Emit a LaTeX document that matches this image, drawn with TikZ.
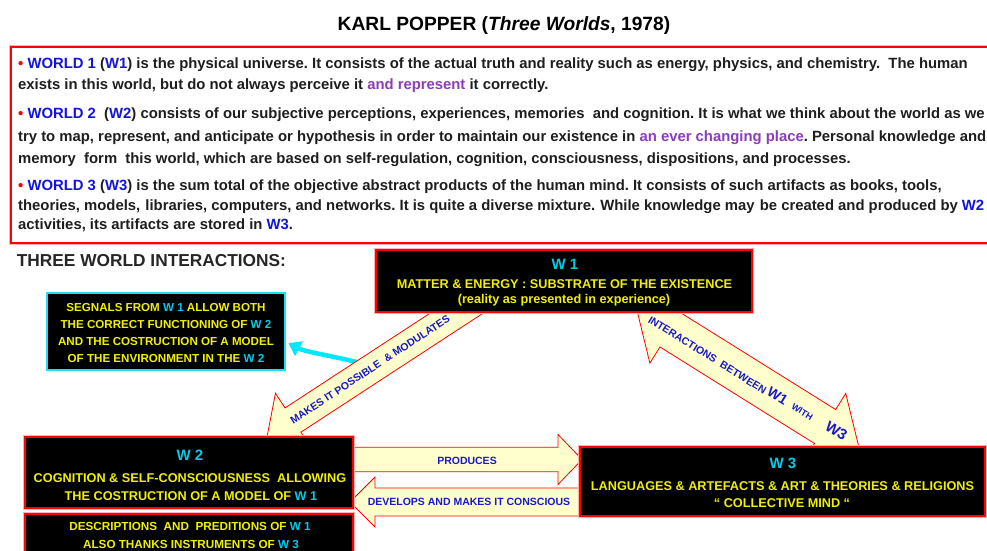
\documentclass[tikz,border=0pt]{standalone}
\usepackage{fontspec}
\setmainfont{Liberation Sans}
\usetikzlibrary{calc,arrows.meta}

\definecolor{boxred}{RGB}{255,0,0}
\definecolor{txtyellow}{RGB}{240,240,0}
\definecolor{txtcyan}{RGB}{0,204,232}
\definecolor{notecyan}{RGB}{30,220,250}
\definecolor{wblue}{RGB}{20,20,225}
\definecolor{wpurple}{RGB}{140,60,185}
\definecolor{arrowfill}{RGB}{255,255,206}
\definecolor{lblblue}{RGB}{25,25,200}
\definecolor{linkcyan}{RGB}{0,232,250}
\definecolor{bodyink}{RGB}{30,30,30}

\newcommand\fsz[1]{\fontsize{#1}{#1}\selectfont}
\newcommand\wb[1]{\textcolor{wblue}{#1}}
\newcommand\pu[1]{\textcolor{wpurple}{#1}}
\newcommand\cy[1]{\textcolor{txtcyan}{#1}}
\newcommand\rbul{\textcolor{boxred}{•}}

% single-headed block arrow: tail, tip, shaft half width, head half width, head length
\newcommand\blockarrow[5]{%
  \coordinate (baH) at ($(#2)!#5!(#1)$);
  \path[blocklink] ($(#1)!#3!90:(#2)$) -- ($(baH)!#3!-90:(#1)$) -- ($(baH)!#4!-90:(#1)$)
    -- (#2) -- ($(baH)!#4!90:(#1)$) -- ($(baH)!#3!90:(#1)$) -- ($(#1)!#3!-90:(#2)$) -- cycle;}
% double-headed block arrow
\newcommand\dblarrow[5]{%
  \coordinate (daP) at ($(#1)!#5!(#2)$);
  \coordinate (daQ) at ($(#2)!#5!(#1)$);
  \path[blocklink] (#1) -- ($(daP)!#4!90:(#2)$) -- ($(daP)!#3!90:(#2)$)
    -- ($(daQ)!#3!-90:(#1)$) -- ($(daQ)!#4!-90:(#1)$) -- (#2)
    -- ($(daQ)!#4!90:(#1)$) -- ($(daQ)!#3!90:(#1)$)
    -- ($(daP)!#3!-90:(#2)$) -- ($(daP)!#4!-90:(#2)$) -- cycle;}

\frenchspacing

\begin{document}
\begin{tikzpicture}[x=1pt, y=-1pt,
  bodyline/.style={anchor=base west, inner sep=0pt, text=bodyink, font=\fsz{14.85}\bfseries},
  textbox/.style={fill=white, draw=boxred, line width=2pt, inner sep=0pt,
    preaction={draw=boxred!30, line width=4.5pt}},
  blackbox/.style={fill=black, draw=boxred, line width=2pt, inner sep=0pt,
    preaction={draw=boxred!30, line width=4.5pt}},
  notebox/.style={fill=black, draw=notecyan, line width=2pt, inner sep=0pt},
  headtxt/.style={anchor=base, inner sep=0pt, text=txtcyan, font=\fsz{15}\bfseries},
  boxtxt/.style={anchor=base, inner sep=0pt, text=txtyellow, font=\fsz{12.7}\bfseries},
  notetxt/.style={anchor=base, inner sep=0pt, text=txtyellow, font=\fsz{11.6}\bfseries},
  blocklink/.style={fill=arrowfill, draw=boxred, line width=0.8pt, line join=miter},
  linklabel/.style={inner sep=0pt, text=lblblue, font=\fsz{10.5}\bfseries},
  cyanlink/.style={draw=linkcyan, line width=4.5pt, -{Triangle[length=12pt,width=16pt]}},
]
\useasboundingbox (0,0) rectangle (987,550);
\clip (0,0) rectangle (987,550);
\fill[white] (0,0) rectangle (987,550);

% heading
\node[anchor=base, inner sep=0pt, font=\fsz{19.2}\bfseries] (title) at (504,30.5)
  {KARL POPPER (\textit{Three Worlds}, 1978)};

% framed description of the three worlds
\node[textbox, minimum width=990pt, minimum height=196pt, anchor=north west] (intro) at (10,46) {};
\node[bodyline] (l1) at (18,68.3) {\rbul\ \wb{WORLD 1} (\wb{W1}) is the physical universe. It consists of the actual truth and reality such as energy, physics, and chemistry.\ \ The human};
\node[bodyline] (l2) at (18,89.5) {exists in this world, but do not always perceive it \pu{and represent} it correctly.};
\node[bodyline] (l3) at (18,118.3) {\rbul\ \wb{WORLD 2}\ \ (\wb{W2}) consists of our subjective perceptions, experiences, memories\ \ and cognition. It is what we think about the world as we};
\node[bodyline] (l4) at (18,141) {try to map, represent, and anticipate or hypothesis in order to maintain our existence in \pu{an ever changing place}. Personal knowledge and};
\node[bodyline] (l5) at (18,163) {memory\ \ form\ \ this world, which are based on self-regulation, cognition, consciousness, dispositions, and processes.};
\node[bodyline] (l6) at (18,190) {\rbul\ \wb{WORLD 3} (\wb{W3}) is the sum total of the objective abstract products of the human mind. It consists of such artifacts as books, tools,};
\node[bodyline] (l7) at (18,210) {theories, models,\hspace{1pt} libraries, computers, and networks. It is quite a diverse mixture.\hspace{1pt} While knowledge may\hspace{1pt} be created and produced by \wb{W2}};
\node[bodyline] (l8) at (18,229.5) {activities, its artifacts are stored in \wb{W3}.};

\node[anchor=base west, inner sep=0pt, font=\fsz{17.3}\bfseries, text=black!85] (interhead) at (16.7,266)
  {THREE WORLD INTERACTIONS:};

% note on the signals coming from W1
\node[notebox, minimum width=238pt, minimum height=77pt] (note) at (166,331.5) {};
\node[notetxt] (n1) at (166,311) {SEGNALS FROM \cy{W 1} ALLOW BOTH};
\node[notetxt] (n2) at (166,328.3) {THE CORRECT FUNCTIONING OF \cy{W 2}};
\node[notetxt] (n3) at (166,345) {AND THE COSTRUCTION OF A MODEL};
\node[notetxt] (n4) at (166,362.3) {OF THE ENVIRONMENT IN THE \cy{W 2}};

% cyan link from the W1->W2 arrow to the note
\coordinate (linkStart) at (372,366);
\draw[cyanlink] (linkStart) .. controls (340,357) and (305,352) .. ([shift={(2.5,11.5)}]note.east);

% block arrows between the worlds
\coordinate (mkTail) at (479.4,298.3);
\coordinate (mkTip) at (267,437);
\blockarrow{mkTail}{mkTip}{14.5pt}{32pt}{31pt}

\coordinate (ixA) at (636.6,308.8);
\coordinate (ixB) at (859,447.7);
\dblarrow{ixA}{ixB}{20pt}{39pt}{40pt}

\coordinate (prTail) at (345,459.5);
\coordinate (prTip) at (582,459.5);
\blockarrow{prTail}{prTip}{12.2pt}{25pt}{24pt}

\coordinate (dvTail) at (600,502);
\coordinate (dvTip) at (350,502);
\blockarrow{dvTail}{dvTip}{14pt}{25pt}{25pt}

% World 1
\node[blackbox, minimum width=376pt, minimum height=62pt] (w1) at (564,281) {};
\node[headtxt] (w1h) at (565,269) {W 1};
\node[boxtxt] (w1a) at (564.5,288) {MATTER \& ENERGY : SUBSTRATE OF THE EXISTENCE};
\node[boxtxt] (w1b) at (564,303) {(reality as presented in experience)};

% World 2
\node[blackbox, minimum width=328pt, minimum height=71pt] (w2) at (189,472.5) {};
\node[headtxt] (w2h) at (190,460.5) {W 2};
\node[boxtxt] (w2a) at (190,482.7) {COGNITION \& SELF-CONSCIOUSNESS\ \ ALLOWING};
\node[boxtxt] (w2b) at (191,500) {THE COSTRUCTION OF A MODEL OF \cy{W 1}};

\node[blackbox, minimum width=328pt, minimum height=50pt, anchor=north] (desc) at (189,513) {};
\node[notetxt, font=\fsz{11.7}\bfseries] (d1) at (190,530.7) {DESCRIPTIONS\ \ AND\ \ PREDITIONS OF \cy{W 1}};
\node[notetxt, font=\fsz{11.7}\bfseries] (d2) at (191,548.3) {ALSO THANKS INSTRUMENTS OF \cy{W 3}};

% World 3
\node[blackbox, minimum width=405pt, minimum height=69pt] (w3) at (782.5,481.5) {};
\node[headtxt] (w3h) at (783,468.3) {W 3};
\node[boxtxt] (w3a) at (782.5,490) {LANGUAGES \& ARTEFACTS \& ART \& THEORIES \& RELIGIONS};
\node[boxtxt] (w3b) at (782,507.3) {“ COLLECTIVE MIND “};

% arrow labels
\node[linklabel, anchor=base] (lprod) at (467,464) {PRODUCES};
\node[linklabel, anchor=base] (ldev) at (469,505.7) {DEVELOPS AND MAKES IT CONSCIOUS};
\node[linklabel, rotate=33.3] (lmake) at (370,369.5) {MAKES IT POSSIBLE\ \ \& MODULATES};
\node[linklabel, rotate=-31.9] (lix1) at (707.4,355.2) {INTERACTIONS\ \ BETWEEN};
\node[linklabel, font=\fsz{14}\bfseries, rotate=-31.9] (lix2) at (777.6,395.5) {W1};
\node[linklabel, font=\fsz{9}\bfseries, rotate=-31.9] (lix3) at (802.2,411.8) {WITH};
\node[linklabel, font=\fsz{15}\bfseries, rotate=-31.9] (lix4) at (836.4,430.7) {W3};
\end{tikzpicture}
\end{document}
